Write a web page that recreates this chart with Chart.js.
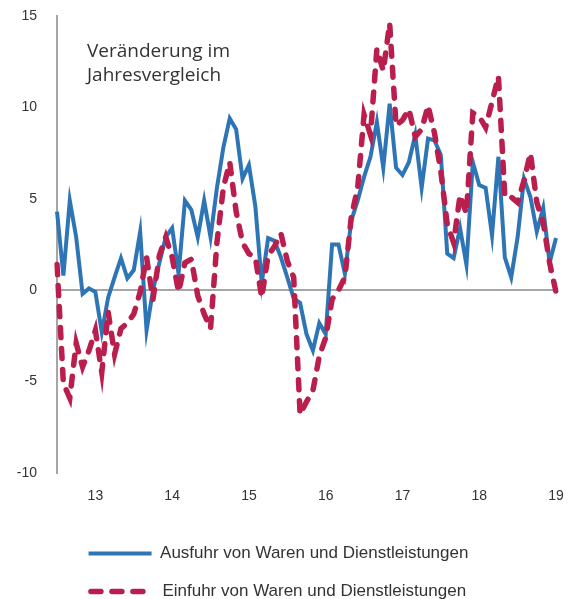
<!DOCTYPE html>
<html>
<head>
<meta charset="utf-8">
<script src="https://cdn.jsdelivr.net/npm/chart.js@4"></script>
<style>
  html, body { margin: 0; padding: 0; background: #fff; }
</style>
</head>
<body>
<canvas id="chart" width="571" height="599"></canvas>
<script>
// monthly data, Jul 2012 .. Jan 2019
const firstYear = 2012, firstMonth = 7, monthCount = 79;
const yearTicks = ['13', '14', '15', '16', '17', '18', '19'];
const yTicks = [-10, -5, 0, 5, 10, 15];
const seriesNames = ['Ausfuhr von Waren und Dienstleistungen', 'Einfuhr von Waren und Dienstleistungen'];
const noteLines = ['Veränderung im', 'Jahresvergleich'];

const exportsYoY = [
  4.3, 0.8, 4.9, 2.9, -0.2, 0.1, -0.1, -2.3, -0.4, 0.7, 1.75, 0.65,
  1.1, 3.2, -2.2, 0.0, 1.5, 2.9, 3.4, 0.9, 4.9, 4.4, 2.9, 4.9,
  2.9, 5.6, 7.8, 9.4, 8.8, 6.1, 6.85, 4.6, 0.4, 2.85, 2.7, 1.8,
  0.7, -0.45, -0.7, -2.4, -3.3, -1.8, -2.4, 2.5, 2.5, 0.9, 3.8, 4.9,
  6.2, 7.3, 9.2, 6.7, 10.2, 6.7, 6.3, 7.0, 8.5, 5.6, 8.3, 8.2,
  7.4, 2.0, 1.75, 3.4, 1.4, 7.0, 5.75, 5.6, 3.0, 7.3, 1.8, 0.7,
  2.9, 6.1, 5.1, 3.2, 4.5, 1.5, 2.85
];
const importsYoY = [
  1.4, -5.1, -5.9, -2.9, -4.2, -3.3, -2.2, -4.5, -1.2, -3.5, -2.1, -1.8,
  -1.3, -0.1, 1.8, -0.5, 1.9, 2.9, 1.8, -0.1, 1.5, 1.7, -0.3, -1.3,
  -2.1, 2.6, 5.6, 7.0, 4.3, 2.6, 2.0, 1.8, -0.4, 1.9, 2.4, 3.1,
  1.6, 0.7, -6.8, -6.1, -5.5, -3.6, -2.6, -0.5, 0.0, 0.7, 4.0, 5.6,
  9.6, 8.5, 13.2, 12.0, 14.6, 9.0, 9.3, 9.9, 8.4, 8.8, 10.1, 8.6,
  6.5, 3.6, 2.6, 5.2, 4.2, 9.7, 9.5, 8.9, 10.3, 11.7, 5.1, 5.1,
  4.8, 6.0, 7.5, 4.8, 3.7, 1.5, -0.1
];

const months = [];
for (let i = 0; i < monthCount; i++) {
  const m = firstMonth - 1 + i;
  const y = firstYear + Math.floor(m / 12);
  months.push(y + '-' + String(m % 12 + 1).padStart(2, '0'));
}

const textColor = '#333333';
const axisGrey = '#a6a6a6';
const labelFont = '"Liberation Sans", Arial, sans-serif';

// text box in the upper left of the plot
const notePlugin = {
  id: 'note',
  afterDraw(chart) {
    const ctx = chart.ctx;
    ctx.save();
    ctx.font = '19px "Open Sans"';
    ctx.fillStyle = textColor;
    ctx.textBaseline = 'alphabetic';
    noteLines.forEach((t, i) => ctx.fillText(t, 87, 57 + i * 24));
    ctx.restore();
  }
};

new Chart(document.getElementById('chart'), {
  type: 'line',
  data: {
    labels: months,
    datasets: [{
      label: seriesNames[0],
      data: exportsYoY,
      borderColor: '#2e75b6',
      backgroundColor: '#2e75b6',
      borderWidth: 4,
      pointRadius: 0,
      tension: 0,
      order: 2
    }, {
      label: seriesNames[1],
      data: importsYoY,
      borderColor: '#b91e4d',
      backgroundColor: '#b91e4d',
      borderWidth: 5.5,
      borderDash: [10, 11],
      borderCapStyle: 'round',
      pointRadius: 0,
      tension: 0,
      order: 1
    }]
  },
  options: {
    responsive: false,
    animation: false,
    layout: { padding: { left: 1, right: 15, top: 16, bottom: -11 } },
    plugins: {
      tooltip: { enabled: false },
      legend: {
        position: 'bottom',
        align: 'center',
        labels: {
          usePointStyle: true,
          pointStyle: 'line',
          pointStyleWidth: 63,
          padding: 21,
          color: textColor,
          font: { family: labelFont, size: 17 },
          generateLabels: (chart) => chart.data.datasets.map((ds, i) => ({
            text: ds.label,
            datasetIndex: i,
            strokeStyle: ds.borderColor,
            fillStyle: ds.borderColor,
            fontColor: textColor,
            lineWidth: ds.borderWidth,
            lineDash: ds.borderDash || [],
            lineCap: ds.borderCapStyle || 'butt',
            pointStyle: 'line',
            hidden: false
          }))
        }
      }
    },
    scales: {
      x: {
        grid: { display: false, drawTicks: false },
        border: { display: false },
        afterFit: (axis) => {
          axis.paddingLeft = 0;
          axis.paddingRight = 0;
          axis.height = 51;
        },
        ticks: {
          autoSkip: false,
          maxRotation: 0,
          minRotation: 0,
          padding: 15,
          color: textColor,
          font: { family: labelFont, size: 14 },
          callback: function (value) {
            const lab = this.getLabelForValue(value);
            if (!lab.endsWith('-01')) return '';
            return yearTicks[Number(lab.slice(0, 4)) - 2013];
          }
        }
      },
      y: {
        min: yTicks[0],
        max: yTicks[yTicks.length - 1],
        afterBuildTicks: (axis) => { axis.ticks = yTicks.map(v => ({ value: v })); },
        afterFit: (axis) => {
          axis.paddingTop = 0;
          axis.paddingBottom = 0;
          axis.width = 56;
        },
        grid: {
          drawTicks: false,
          lineWidth: 2,
          color: (ctx) => (ctx.tick && ctx.tick.value === 0 ? axisGrey : 'rgba(0,0,0,0)')
        },
        border: { display: true, color: axisGrey, width: 2 },
        ticks: {
          padding: 20,
          color: textColor,
          font: { family: labelFont, size: 14 }
        }
      }
    }
  },
  plugins: [notePlugin]
});
</script>
</body>
</html>
